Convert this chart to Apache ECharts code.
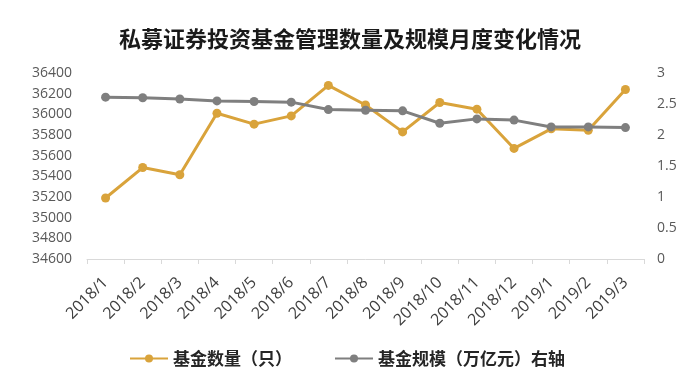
<!DOCTYPE html>
<html><head><meta charset="utf-8">
<script src="https://cdn.jsdelivr.net/npm/echarts@6/dist/echarts.min.js"></script>
<style>html,body{margin:0;padding:0;background:#fff}#c{width:700px;height:385px}</style>
</head><body><div id="c"></div>
<script>
const categories = ['2018/1','2018/2','2018/3','2018/4','2018/5','2018/6','2018/7','2018/8','2018/9','2018/10','2018/11','2018/12','2019/1','2019/2','2019/3'];
const fundCount = [35190,35485,35415,36010,35905,35985,36280,36090,35830,36115,36050,35670,35860,35845,36240];
const fundScale = [2.61,2.60,2.58,2.55,2.54,2.53,2.41,2.40,2.39,2.19,2.26,2.24,2.13,2.13,2.12];
const leftTicks = {min:34600, max:36400, interval:200};
const rightTicks = {min:0, max:3, interval:0.5};
const seriesNames = ['基金数量（只）','基金规模（万亿元）右轴'];
const titleText = '私募证券投资基金管理数量及规模月度变化情况';

const cjk = '"Noto Sans CJK SC","Noto Sans",sans-serif';
const num = '"Open Sans","Noto Sans",sans-serif';
const chart = echarts.init(document.getElementById('c'));
chart.setOption({
  animation:false,
  backgroundColor:'#fff',
  textStyle:{fontFamily:cjk},
  title:{text:titleText,left:'center',top:23,textStyle:{fontFamily:cjk,fontSize:22,fontWeight:'bold',color:'#1a1a1a'}},
  legend:{top:345,left:124,itemGap:42,itemWidth:38,itemHeight:10,
    textStyle:{fontFamily:cjk,fontSize:17,fontWeight:'bold',color:'#262626'},
    data:seriesNames},
  grid:{left:87,right:56,top:73,bottom:126},
  xAxis:{type:'category',data:categories,boundaryGap:true,
    axisLine:{lineStyle:{color:'#D9D9D9'}},
    axisTick:{show:true,length:5,lineStyle:{color:'#D9D9D9'}},
    axisLabel:{rotate:45,fontSize:16,color:'#404040',margin:21,interval:0,fontFamily:num}},
  yAxis:[
    {type:'value',min:leftTicks.min,max:leftTicks.max,interval:leftTicks.interval,
      splitLine:{show:false},axisLine:{show:false},axisTick:{show:false},
      axisLabel:{fontSize:14,color:'#595959',margin:15,fontFamily:num,formatter:v=>String(v)}},
    {type:'value',min:rightTicks.min,max:rightTicks.max,interval:rightTicks.interval,
      splitLine:{show:false},axisLine:{show:false},axisTick:{show:false},
      axisLabel:{fontSize:14,color:'#595959',margin:13,fontFamily:num,formatter:v=>String(v)}}
  ],
  series:[
    {name:seriesNames[0],type:'line',yAxisIndex:0,data:fundCount,symbol:'circle',symbolSize:9,
      lineStyle:{width:3,color:'#D9A33B'},itemStyle:{color:'#D9A33B'}},
    {name:seriesNames[1],type:'line',yAxisIndex:1,data:fundScale,symbol:'circle',symbolSize:9,
      lineStyle:{width:3,color:'#7F7F7F'},itemStyle:{color:'#7F7F7F'}}
  ]
});
</script></body></html>
